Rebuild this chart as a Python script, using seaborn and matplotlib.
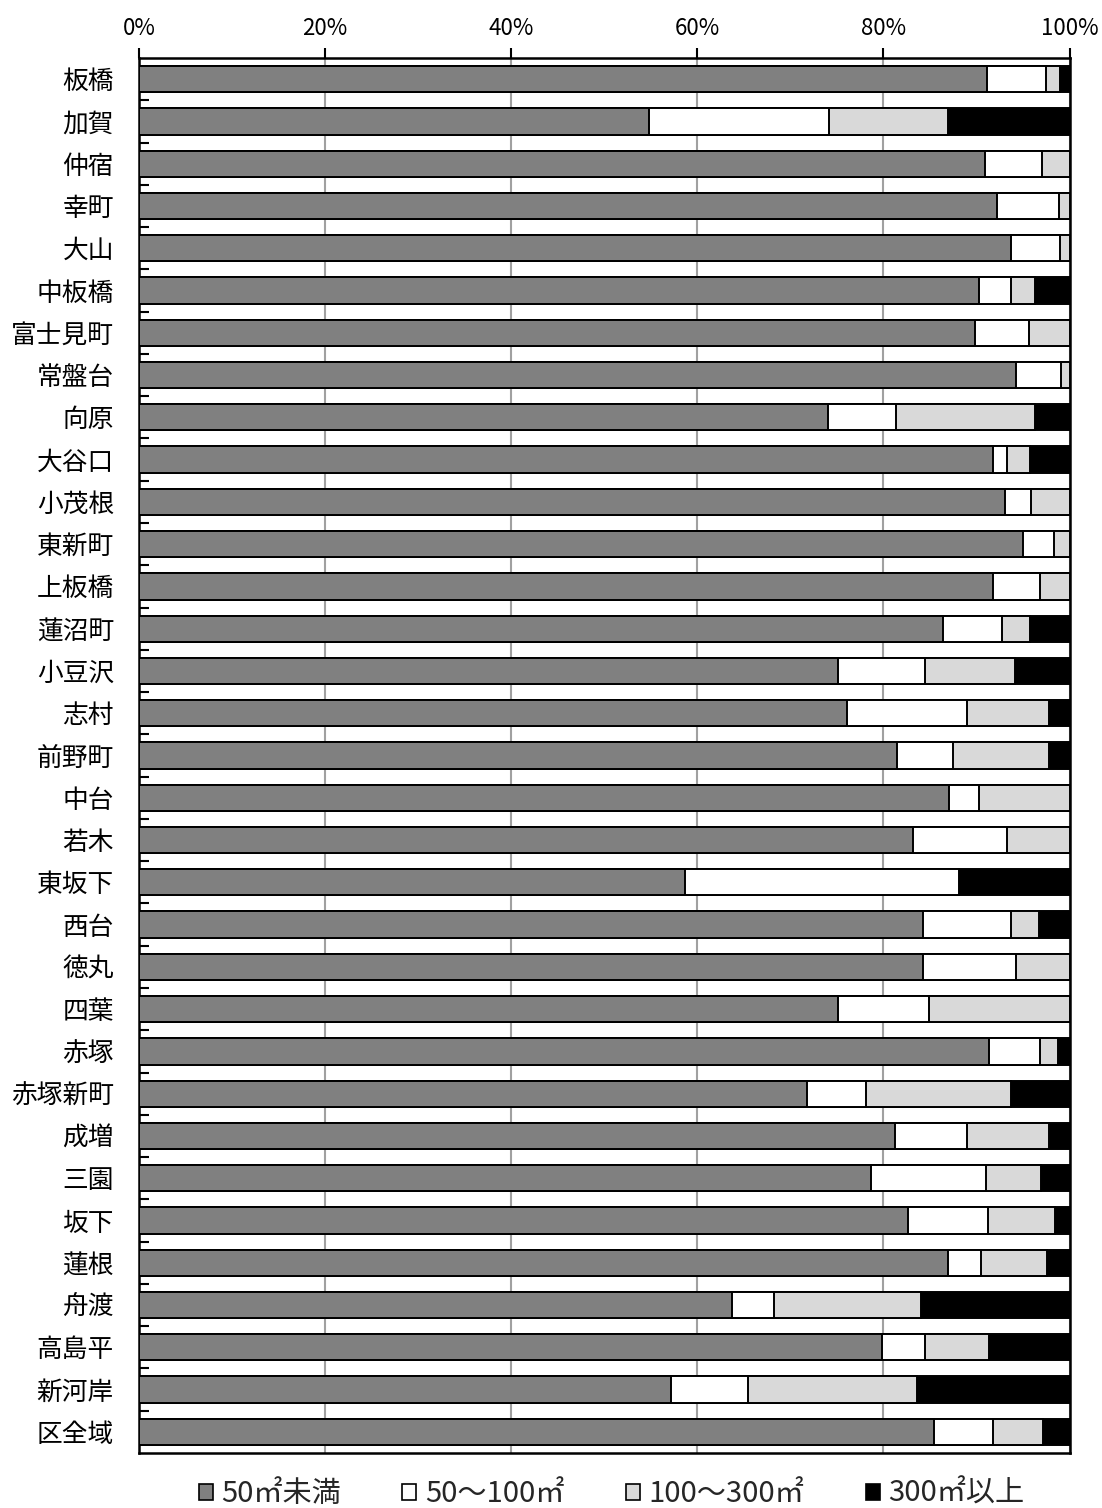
import matplotlib
matplotlib.use("Agg")
import matplotlib.pyplot as plt
import matplotlib.ticker as mticker
from matplotlib.patches import Patch
import seaborn as sns
import pandas as pd
import numpy as np

categories = ["板橋", "加賀", "仲宿", "幸町", "大山", "中板橋", "富士見町", "常盤台",
              "向原", "大谷口", "小茂根", "東新町", "上板橋", "蓮沼町", "小豆沢", "志村",
              "前野町", "中台", "若木", "東坂下", "西台", "徳丸", "四葉", "赤塚",
              "赤塚新町", "成増", "三園", "坂下", "蓮根", "舟渡", "高島平", "新河岸", "区全域"]

under50 = [91.1, 54.8, 90.9, 92.2, 93.7, 90.3, 89.8, 94.3,
           74.0, 91.8, 93.1, 95.0, 91.8, 86.4, 75.1, 76.1,
           81.5, 87.1, 83.2, 58.7, 84.3, 84.3, 75.1, 91.4,
           71.8, 81.3, 78.7, 82.6, 86.9, 63.7, 79.8, 57.2, 85.4]
s50_100 = [6.4, 19.3, 6.1, 6.7, 5.3, 3.4, 5.8, 4.8,
           7.4, 1.5, 2.8, 3.3, 5.0, 6.3, 9.4, 12.9,
           6.0, 3.2, 10.1, 29.4, 9.4, 9.9, 9.8, 5.4,
           6.3, 7.7, 12.3, 8.6, 3.6, 4.5, 4.7, 8.2, 6.4]
s100_300 = [1.5, 12.8, 3.0, 1.1, 1.0, 2.6, 4.4, 0.9,
            14.9, 2.5, 4.1, 1.7, 3.2, 3.1, 9.6, 8.8,
            10.3, 9.7, 6.7, 0.0, 3.0, 5.8, 15.1, 2.0,
            15.6, 8.8, 5.9, 7.2, 7.1, 15.8, 6.8, 18.2, 5.3]
over300 = [1.0, 13.1, 0.0, 0.0, 0.0, 3.7, 0.0, 0.0,
           3.7, 4.2, 0.0, 0.0, 0.0, 4.2, 5.9, 2.2,
           2.2, 0.0, 0.0, 11.9, 3.3, 0.0, 0.0, 1.2,
           6.3, 2.2, 3.1, 1.6, 2.4, 16.0, 8.7, 16.4, 2.9]

series_labels = ["50㎡未満", "50～100㎡", "100～300㎡", "300㎡以上"]
series_colors = ["#808080", "#ffffff", "#d9d9d9", "#000000"]
tick_vals = [0, 20, 40, 60, 80, 100]

df = pd.DataFrame({"地域": categories, "s1": under50, "s2": s50_100,
                   "s3": s100_300, "s4": over300})
cols = ["s1", "s2", "s3", "s4"]
cum = df[cols].cumsum(axis=1)
cum = cum.div(cum["s4"], axis=0) * 100
cum["地域"] = df["地域"]

sns.set_theme(style="white")
plt.rcParams["font.family"] = ["Noto Sans CJK JP", "DejaVu Sans"]

fig = plt.figure(figsize=(11.02, 15.08), dpi=100)
ax = fig.add_axes([139 / 1102, 1 - 1453 / 1508, (1069.5 - 139) / 1102, (1453 - 58) / 1508])

for c in reversed(range(4)):
    sns.barplot(data=cum, x=cols[c], y="地域", orient="h", color=series_colors[c],
                saturation=1, width=0.62, edgecolor="black", linewidth=1.4,
                ax=ax, zorder=3)

ax.set_xlim(0, 100)
ax.set_ylim(len(categories) - 0.5, -0.5)
ax.set_xlabel("")
ax.set_ylabel("")
ax.xaxis.tick_top()
ax.set_xticks(tick_vals)
ax.xaxis.set_major_formatter(mticker.FuncFormatter(lambda v, p: f"{int(v)}%"))
ax.tick_params(axis="x", which="major", direction="out", length=7, width=1.5,
               color="black", labelsize=16, pad=6)
ax.set_yticks(np.arange(len(categories) - 1) + 0.5, minor=True)
ax.tick_params(axis="y", which="major", length=0, labelsize=18.5, pad=18)
ax.tick_params(axis="y", which="minor", direction="in", length=7, width=1.5,
               color="black", left=True)
for lab in ax.get_yticklabels():
    lab.set_color("black")
for lab in ax.get_xticklabels():
    lab.set_color("black")

ax.grid(axis="x", color="#a0a0a0", linewidth=1.5, zorder=0)
ax.set_axisbelow(True)
for side in ["top", "bottom", "left", "right"]:
    ax.spines[side].set_visible(True)
    ax.spines[side].set_color("black")
    ax.spines[side].set_linewidth(1.8)

handles = [Patch(facecolor=series_colors[i], edgecolor="black", linewidth=1.2,
                 label=series_labels[i]) for i in range(4)]
fig.legend(handles=handles, loc="center", bbox_to_anchor=(0.555, 1 - 1494 / 1508),
           ncol=4, frameon=False, fontsize=21, handlelength=0.48, handleheight=0.48,
           handletextpad=0.3, columnspacing=2.1, borderaxespad=0)

fig.savefig("out.png", dpi=100)
